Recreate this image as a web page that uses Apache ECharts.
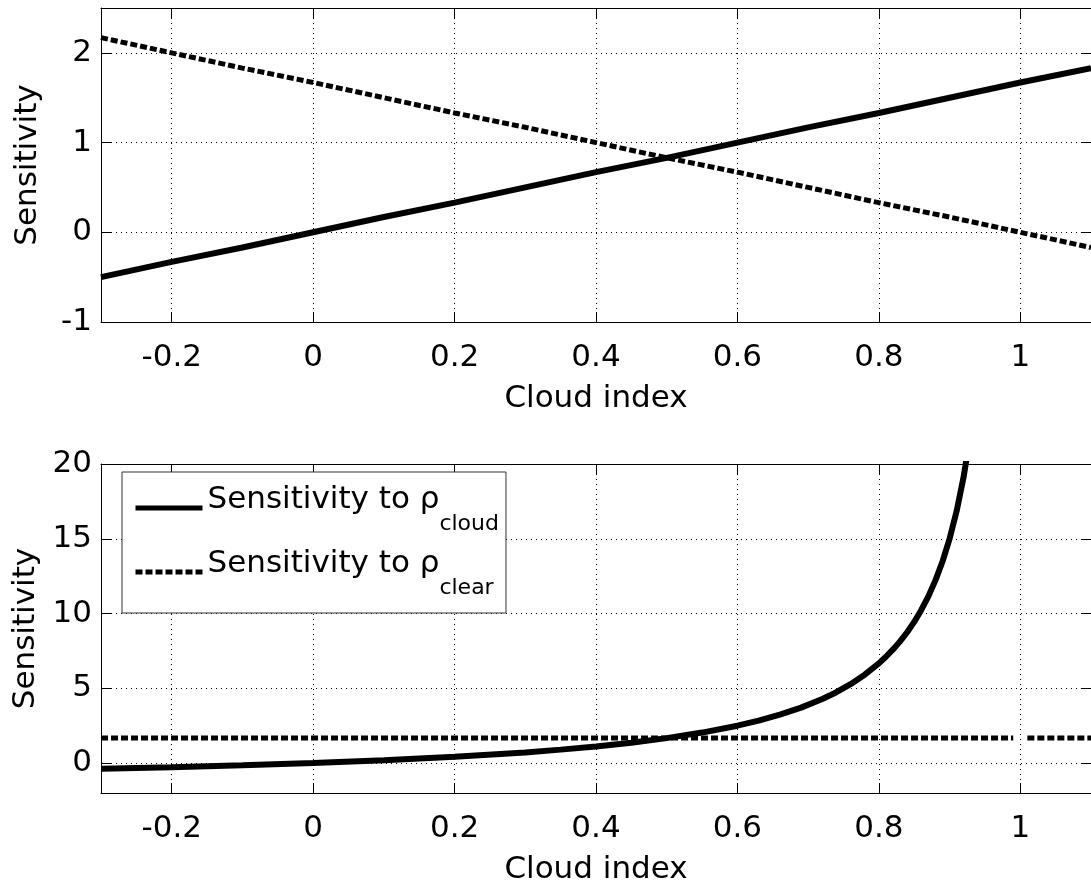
<!DOCTYPE html>
<html>
<head>
<meta charset="utf-8">
<script src="https://cdn.jsdelivr.net/npm/echarts@6/dist/echarts.min.js"></script>
<style>
  html, body { margin: 0; padding: 0; background: #fff; }
  #chart { width: 1091px; height: 886px; }
</style>
</head>
<body>
<div id="chart"></div>
<script>
// ---- data ----
const xTop = [-0.3, -0.2, -0.1, 0, 0.1, 0.2, 0.3, 0.4, 0.5, 0.6, 0.7, 0.8, 0.9, 1.0, 1.1];
const cloudTop = [-0.5, -0.33, -0.17, 0, 0.17, 0.33, 0.5, 0.67, 0.83, 1.0, 1.17, 1.33, 1.5, 1.67, 1.83];
const clearTop = [2.17, 2.0, 1.83, 1.67, 1.5, 1.33, 1.17, 1.0, 0.83, 0.67, 0.5, 0.33, 0.17, 0, -0.17];

const xCloudBottom = [-0.3, -0.2, -0.1, 0, 0.1, 0.2, 0.3, 0.35, 0.4, 0.45, 0.5, 0.55, 0.6, 0.63, 0.66, 0.69, 0.72, 0.74, 0.76, 0.78, 0.8, 0.81, 0.82, 0.83, 0.84, 0.85, 0.86, 0.87, 0.88, 0.89, 0.9, 0.91, 0.92, 0.93];
const cloudBottom = [-0.38, -0.28, -0.15, 0, 0.19, 0.42, 0.71, 0.9, 1.11, 1.36, 1.67, 2.04, 2.5, 2.84, 3.24, 3.71, 4.29, 4.74, 5.28, 5.91, 6.67, 7.11, 7.6, 8.14, 8.75, 9.44, 10.24, 11.15, 12.22, 13.48, 15.0, 16.85, 19.17, 22.14];
const xClearBottom = [-0.3, 0.99, 1.0, 1.01, 1.1];
const clearBottom = [1.67, 1.67, null, 1.67, 1.67];

const xTicks = [-0.2, 0, 0.2, 0.4, 0.6, 0.8, 1];
const yTopTicks = [-1, 0, 1, 2];
const yBottomTicks = [0, 5, 10, 15, 20];

const seriesNames = ['cloud', 'clear'];
const legendLabels = { cloud: 'cloud', clear: 'clear' };

// ---- styling ----
const FONT = 'DejaVu Sans';
const FS = 31;

function pairs(xs, ys) { return xs.map((x, i) => [x, ys[i]]); }

const gridLine = { show: true, lineStyle: { color: '#000', width: 1, type: [1, 4] } };

function xAxisDef(gridIndex, main) {
  return {
    type: 'value', gridIndex: gridIndex, min: -0.3, max: 1.1,
    position: main ? 'bottom' : 'top',
    axisLine: { show: true, onZero: false, lineStyle: { color: '#000', width: 1 } },
    axisTick: { show: true, inside: true, length: 10, customValues: xTicks, lineStyle: { color: '#000' } },
    axisLabel: { show: main, customValues: xTicks, margin: 20, color: '#000', fontFamily: FONT, fontSize: FS,
                 formatter: v => String(v) },
    splitLine: main ? gridLine : { show: false },
    name: main ? 'Cloud index' : '', nameLocation: 'middle', nameGap: 61,
    nameTextStyle: { color: '#000', fontFamily: FONT, fontSize: FS }
  };
}
function yAxisDef(gridIndex, main, min, max, ticks) {
  return {
    type: 'value', gridIndex: gridIndex, min: min, max: max,
    position: main ? 'left' : 'right',
    axisLine: { show: true, onZero: false, lineStyle: { color: '#000', width: 1 } },
    axisTick: { show: true, inside: true, length: 10, customValues: ticks, lineStyle: { color: '#000' } },
    axisLabel: { show: main, customValues: ticks, margin: 9, color: '#000', fontFamily: FONT, fontSize: FS,
                 formatter: v => String(v) },
    splitLine: main ? gridLine : { show: false },
    name: main ? 'Sensitivity' : '', nameLocation: 'middle', nameGap: 58, nameRotate: 90,
    nameTextStyle: { color: '#000', fontFamily: FONT, fontSize: FS }
  };
}

const solidStyle = { color: '#000', width: 6, type: 'solid' };
const dashStyle = { color: '#000', width: 5, type: [7, 3] };

const option = {
  animation: false,
  backgroundColor: '#fff',
  grid: [
    { left: 101, right: -5, top: 8, height: 314 },
    { left: 101, right: -5, top: 464, height: 329 }
  ],
  xAxis: [xAxisDef(0, true), xAxisDef(0, false), xAxisDef(1, true), xAxisDef(1, false)],
  yAxis: [
    yAxisDef(0, true, -1, 2.5, yTopTicks), yAxisDef(0, false, -1, 2.5, yTopTicks),
    yAxisDef(1, true, -2, 20, yBottomTicks), yAxisDef(1, false, -2, 20, yBottomTicks)
  ],
  legend: {
    data: seriesNames,
    orient: 'vertical', left: 122, top: 472,
    padding: [6, 7, 14, 11],
    itemWidth: 67, itemHeight: 20, itemGap: 7,
    borderColor: '#333', borderWidth: 1, backgroundColor: '#fff',
    lineStyle: { width: 5 },
    itemStyle: { color: 'rgba(0,0,0,0)', borderColor: 'rgba(0,0,0,0)', borderWidth: 0, opacity: 0 },
    formatter: n => '{a|Sensitivity to ρ}{s|' + legendLabels[n] + '}',
    textStyle: {
      color: '#000', fontFamily: FONT, fontSize: FS,
      rich: {
        a: { color: '#000', fontFamily: FONT, fontSize: FS, verticalAlign: 'top', lineHeight: 60, padding: [6, 0, 0, 0] },
        s: { color: '#000', fontFamily: FONT, fontSize: 22, verticalAlign: 'top', padding: [35, 0, 0, 0] }
      }
    }
  },
  series: [
    { name: 'cloud', type: 'line', xAxisIndex: 0, yAxisIndex: 0, showSymbol: false, symbol: 'none',
      lineStyle: solidStyle, itemStyle: { color: '#000' }, data: pairs(xTop, cloudTop) },
    { name: 'clear', type: 'line', xAxisIndex: 0, yAxisIndex: 0, showSymbol: false, symbol: 'none',
      lineStyle: dashStyle, itemStyle: { color: '#000' }, data: pairs(xTop, clearTop) },
    { name: 'cloud', type: 'line', xAxisIndex: 2, yAxisIndex: 2, showSymbol: false, symbol: 'none',
      lineStyle: solidStyle, itemStyle: { color: '#000' }, data: pairs(xCloudBottom, cloudBottom) },
    { name: 'clear', type: 'line', xAxisIndex: 2, yAxisIndex: 2, showSymbol: false, symbol: 'none',
      connectNulls: false,
      lineStyle: dashStyle, itemStyle: { color: '#000' }, data: pairs(xClearBottom, clearBottom) }
  ]
};

const chart = echarts.init(document.getElementById('chart'), null, { renderer: 'canvas' });
chart.setOption(option);
</script>
</body>
</html>
